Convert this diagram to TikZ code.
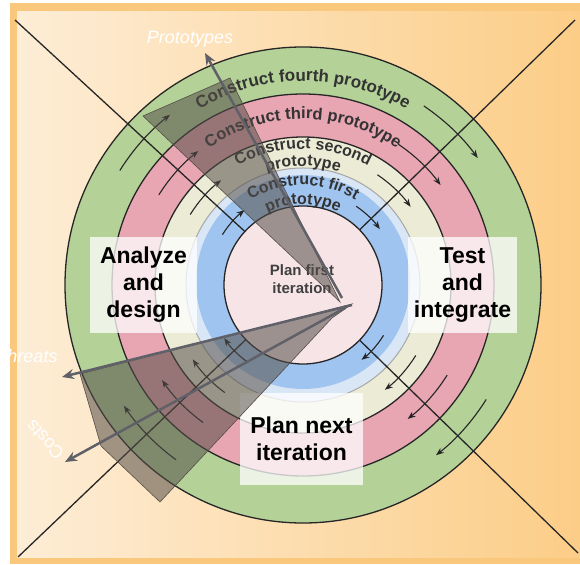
\documentclass[tikz,border=0pt]{standalone}
\usepackage{fontspec}
\setmainfont{Liberation Sans}
\usepackage{tikz}
\usetikzlibrary{arrows.meta, decorations.text, positioning}
\definecolor{framegold}{RGB}{249,200,125}
\definecolor{bgleft}{RGB}{253,237,214}
\definecolor{bgright}{RGB}{252,205,135}
\definecolor{ringgreen}{RGB}{180,209,152}
\definecolor{ringpink}{RGB}{232,166,178}
\definecolor{ringcream}{RGB}{236,236,214}
\definecolor{ringlight}{RGB}{216,230,245}
\definecolor{ringblue}{RGB}{160,196,240}
\definecolor{corepink}{RGB}{246,228,231}
\definecolor{conegray}{RGB}{85,78,72}
\definecolor{arrowgray}{RGB}{96,96,104}
\tikzstyle{labelbox} = [fill=white, fill opacity=0.75, text opacity=1, align=center, inner sep=0pt, font=\bfseries\fontsize{23}{27}\selectfont]
\tikzstyle{arrow} = [line width=2.5pt, draw=arrowgray, -{Stealth[length=12pt,width=10pt,inset=4pt]}]

\begin{document}
\begin{tikzpicture}[
    x=1pt, y=1pt,
    ringline/.style={draw=black!85, line width=1.3pt},
    ringarrow/.style={draw=black!85, line width=1.1pt, -{Stealth[length=8pt,width=6pt]}},
    ringtext/.style={decorate, decoration={text along path, text align=center, text={#1}}},
    cone/.style={fill=conegray, fill opacity=0.55, draw=conegray, line width=0.6pt},
    tag/.style={text=white, font=\fontsize{18}{18}\selectfont}
]
\useasboundingbox (0,0) rectangle (580,564);

% Background
\fill[white] (0,0) rectangle (580,564);
\fill[framegold] (10,0) rectangle (580,561);
\shade[left color=bgleft, right color=bgright] (17,7) rectangle (580,552);

% Coordinates
\coordinate (c) at (303,279);
\coordinate (tl) at (15,544);
\coordinate (tr) at (575,544);
\coordinate (br) at (578,11);
\coordinate (bl) at (18,7);

% Rings
\fill[ringgreen, ringline] (c) circle [radius=238];
\fill[ringpink, ringline] (c) circle [radius=191];
\fill[ringcream, ringline] (c) circle [radius=148];
\fill[ringlight, draw=black!35, line width=1pt] (c) circle [radius=117];
\fill[ringblue] (303,282) circle [radius=107];

% Diagonals
\draw[ringline] (tl) -- (c);
\draw[ringline] (tr) -- (c);
\draw[ringline] (br) -- (c);
\draw[ringline] (bl) -- (c);

\fill[corepink, ringline] (c) circle [radius=79];

% Ring texts
\path[ringtext={|\color{black!80}\bfseries\fontsize{17}{17}\selectfont|Construct fourth prototype}]
    ([shift={(160:204)}]c) arc (160:20:204);
\path[ringtext={|\color{black!80}\bfseries\fontsize{16.5}{16.5}\selectfont|Construct third prototype}]
    ([shift={(160:166)}]c) arc (160:20:166);
\path[ringtext={|\color{black!80}\bfseries\fontsize{16}{16}\selectfont|Construct second}]
    ([shift={(160:136)}]c) arc (160:20:136);
\path[ringtext={|\color{black!80}\bfseries\fontsize{16}{16}\selectfont|prototype}]
    ([shift={(160:119)}]c) arc (160:20:119);
\path[ringtext={|\color{black!80}\bfseries\fontsize{16}{16}\selectfont|Construct first}]
    ([shift={(160:100)}]c) arc (160:20:100);
\path[ringtext={|\color{black!80}\bfseries\fontsize{16}{16}\selectfont|prototype}]
    ([shift={(160:81)}]c) arc (160:20:81);

% Ring arrows
\foreach \r in {216,170,133,95} {
  \foreach \a in {148,56,-32,234} {
    \draw[ringarrow] ([shift={(\a:\r)}]c) arc (\a:\a-20:\r);
  }
}

% Nodes
\node[labelbox, minimum width=107pt, minimum height=96pt] (analyze) at (143.5,279) {Analyze\\and\\design};
\node[labelbox, minimum width=109pt, minimum height=96pt] (test) at (462.5,279) {Test\\and\\integrate};
\node[labelbox, minimum width=123pt, minimum height=92pt] (plannext) at (301.5,125) {Plan next\\iteration};
\node[align=center, text=black!75, font=\bfseries\fontsize{15}{18}\selectfont] (planfirst) at (302,285) {Plan first\\iteration};

% Cones
\fill[cone] (143,448) -- (230,486) -- (340,262) -- cycle;
\fill[cone] (352,260) -- (80,190) -- (101,118) -- (160,62) -- (332,246) -- cycle;

% Arrows
\coordinate (protobase) at (342,266);
\coordinate (prototip) at (205,511);
\coordinate (threatbase) at (352,259);
\coordinate (threattip) at (62,187);
\coordinate (costbase) at (345,256);
\coordinate (costtip) at (65,102);
\draw[arrow] (protobase) -- (prototip);
\draw[arrow] (threatbase) -- (threattip);
\draw[arrow] (costbase) -- (costtip);

% Labels
\node[tag, font=\itshape\fontsize{18}{18}\selectfont] (prototypes) at (190,525) {Prototypes};
\node[tag, font=\itshape\fontsize{18}{18}\selectfont] (threats) at (27,208) {Threats};
\node[tag, rotate=133] (costs) at (45,124) {Costs};

\end{tikzpicture}
\end{document}
